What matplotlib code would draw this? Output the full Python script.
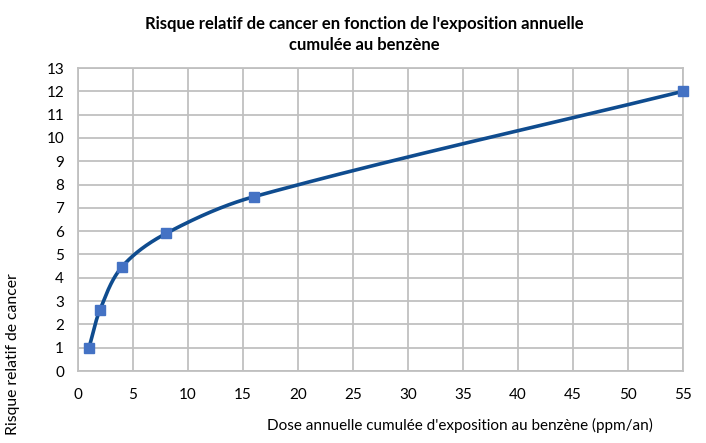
import numpy as np
import matplotlib.pyplot as plt

# Données
dose = [1, 2, 4, 8, 16, 55]
risque = [1.0, 2.63, 4.47, 5.9, 7.48, 12.0]

x_ticks = list(range(0, 60, 5))
y_ticks = list(range(0, 14))

titre = "Risque relatif de cancer en fonction de l'exposition annuelle\ncumulée au benzène"
x_label = "Dose annuelle cumulée d'exposition au benzène (ppm/an)"
y_label = "Risque relatif de cancer"

plt.rcParams['font.family'] = ['Lato', 'DejaVu Sans']


def courbe_lissee(xs, ys, echelle=(11.0, 23.3), n=80):
    # lissage type Excel (Bézier cubique), calculé dans l'espace écran
    sx, sy = echelle
    p = np.column_stack([np.array(xs) * sx, np.array(ys) * sy]).astype(float)
    k = len(p)
    tang = np.zeros_like(p)
    for i in range(k):
        a = p[max(i - 1, 0)]
        b = p[min(i + 1, k - 1)]
        d = b - a
        tang[i] = d / np.linalg.norm(d)
    t = np.linspace(0, 1, n)[:, None]
    morceaux = []
    for i in range(k - 1):
        p0, p1 = p[i], p[i + 1]
        L = np.linalg.norm(p1 - p0) / 3
        c1 = p0 + tang[i] * L
        c2 = p1 - tang[i + 1] * L
        seg = ((1 - t) ** 3) * p0 + 3 * ((1 - t) ** 2) * t * c1 + 3 * (1 - t) * t ** 2 * c2 + t ** 3 * p1
        morceaux.append(seg)
    pts = np.vstack(morceaux)
    return pts[:, 0] / sx, pts[:, 1] / sy


fig = plt.figure(figsize=(7.06, 4.43), dpi=100)
ax = fig.add_axes([0.1105, 0.1625, 0.8569, 0.684])

xs, ys = courbe_lissee(dose, risque)
ax.plot(xs, ys, color="#0f4c8f", linewidth=2.6, zorder=3, solid_capstyle="round")
ax.plot(dose, risque, linestyle="none", marker="s", markersize=7.5,
        color="#4472c4", zorder=4, clip_on=False)

ax.set_xlim(0, 55)
ax.set_ylim(0, 13)
ax.set_xticks(x_ticks)
ax.set_yticks(y_ticks)
ax.grid(True, color="#c0c0c0", linewidth=1.3)
ax.set_axisbelow(True)
for s in ax.spines.values():
    s.set_color("#c0c0c0")
    s.set_linewidth(1.3)
ax.tick_params(length=0, labelsize=11, colors="#000000")
ax.tick_params(axis="x", pad=12)
ax.tick_params(axis="y", pad=10)

fig.text(0.516, 0.965, titre, ha="center", va="top", fontsize=12,
         fontweight="bold", linespacing=1.45)
fig.text(0.652, 0.04, x_label, ha="center", va="center", fontsize=11)
fig.text(0.018, 0.2, y_label, ha="center", va="center", rotation=90, fontsize=11.3)

fig.savefig("out.png", dpi=100)
